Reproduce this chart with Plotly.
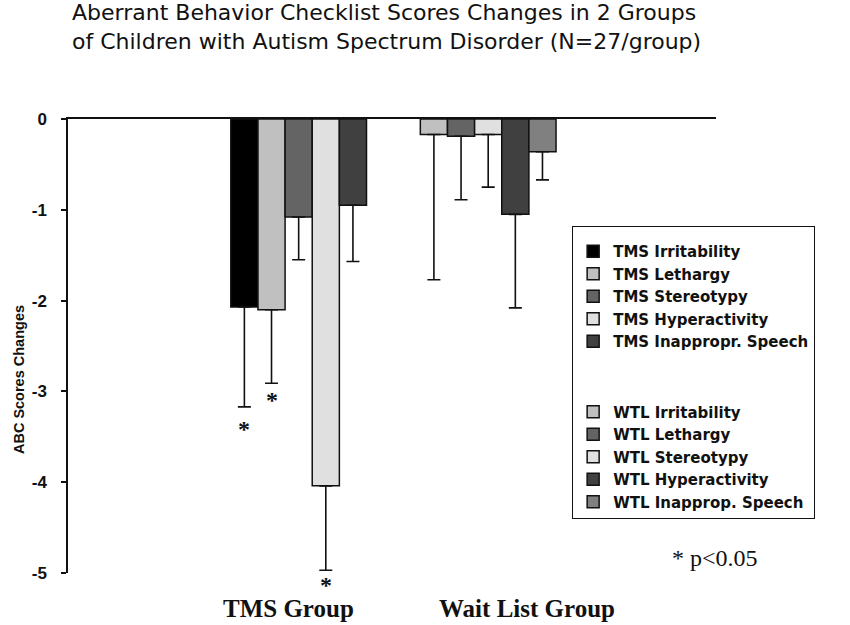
import plotly.graph_objects as go

# ---- data ----
groups = ["TMS Group", "Wait List Group"]
group_x = [0, 1]
tms_names = ["TMS Irritability", "TMS Lethargy", "TMS Stereotypy",
             "TMS Hyperactivity", "TMS Inappropr. Speech"]
wtl_names = ["WTL Irritability", "WTL Lethargy", "WTL Stereotypy",
             "WTL Hyperactivity", "WTL Inapprop. Speech"]
tms_values = [-2.07, -2.10, -1.08, -4.04, -0.95]
tms_errors = [1.10, 0.81, 0.47, 0.93, 0.62]
wtl_values = [-0.17, -0.19, -0.17, -1.05, -0.36]
wtl_errors = [1.60, 0.70, 0.58, 1.03, 0.31]
tms_significant = [True, True, False, True, False]
y_tickvals = [0, -1, -2, -3, -4, -5]
y_ticktext = ["0", "-1", "-2", "-3", "-4", "-5"]
title_lines = ["Aberrant Behavior Checklist Scores Changes in 2 Groups",
               "of Children with Autism Spectrum Disorder (N=27/group)"]

# ---- styles ----
tms_colors = ["#000000", "#c0c0c0", "#646464", "#e0e0e0", "#404040"]
wtl_colors = ["#c0c0c0", "#646464", "#e0e0e0", "#404040", "#808080"]
BARGAP = 0.284
SANS = "Liberation Sans, Arial, sans-serif"
WIDE = "DejaVu Sans, Liberation Sans, sans-serif"
SERIF = "Liberation Serif, Times New Roman, serif"
INK = "#111111"

fig = go.Figure()

def add_series(names, values, errors, colors, gx, lg):
    for i, (n, v, e, c) in enumerate(zip(names, values, errors, colors)):
        fig.add_trace(go.Bar(
            x=[gx], y=[v], name=n, offsetgroup=str(i), legendgroup=lg,
            marker=dict(color=c, line=dict(color=INK, width=1.5)),
            error_y=dict(type="data", symmetric=False, array=[0], arrayminus=[e],
                         color=INK, thickness=1.6, width=6.5),
        ))

add_series(tms_names, tms_values, tms_errors, tms_colors, group_x[0], "TMS")
add_series(wtl_names, wtl_values, wtl_errors, wtl_colors, group_x[1], "WTL")

annotations = []
# significance stars below the TMS error bars
slot_w = (1 - BARGAP) / len(tms_names)
star_shift = [-22, -17, 0, -15, 0]
for i, sig in enumerate(tms_significant):
    if sig:
        annotations.append(dict(
            x=group_x[0] - (1 - BARGAP) / 2 + slot_w * (i + 0.5),
            y=tms_values[i] - tms_errors[i], xref="x", yref="y",
            text="<b>*</b>", showarrow=False, yanchor="middle",
            yshift=star_shift[i],
            font=dict(family=SERIF, size=24, color=INK)))

# group labels
label_shift = [-10, 39]
for gx, g, s in zip(group_x, groups, label_shift):
    annotations.append(dict(
        x=gx, y=-0.079, xref="x", yref="paper", text="<b>" + g + "</b>",
        showarrow=False, xshift=s, yanchor="middle",
        font=dict(family=SERIF, size=25, color=INK)))

# y axis title
annotations.append(dict(
    x=-0.0756, y=0.425, xref="paper", yref="paper", text="<b>ABC Scores Changes</b>",
    textangle=-90, showarrow=False, xanchor="center", yanchor="middle",
    font=dict(family=SANS, size=14.5, color=INK)))

# p-value note
annotations.append(dict(
    x=0.929, y=0.033, xref="paper", yref="paper", text="* p<0.05",
    showarrow=False, xanchor="left", yanchor="middle",
    font=dict(family=SERIF, size=24, color=INK)))

# chart title
annotations.append(dict(
    x=(70 - 68) / 648, y=1 + 121 / 454, xref="paper", yref="paper",
    text="<br>".join(title_lines), align="left",
    showarrow=False, xanchor="left", yanchor="top",
    font=dict(family=WIDE, size=22, color=INK)))

fig.update_layout(
    width=850, height=625,
    margin=dict(l=68, r=134, t=119, b=52),
    paper_bgcolor="white", plot_bgcolor="white",
    barmode="group", bargap=BARGAP, bargroupgap=0,
    xaxis=dict(range=[-1.217, 2.202], side="top", showline=True, linecolor=INK,
               linewidth=1.5, showticklabels=False, ticks="", showgrid=False,
               zeroline=False, fixedrange=True),
    yaxis=dict(range=[-5, 0], tickvals=y_tickvals,
               ticktext=["<b>" + t + "</b>" for t in y_ticktext],
               showline=True, linecolor=INK, linewidth=1.5,
               ticks="outside", ticklen=5, tickwidth=1.5, tickcolor=INK,
               ticklabelstandoff=11, showgrid=False, zeroline=False,
               tickfont=dict(family=SANS, size=17, color=INK),
               fixedrange=True),
    legend=dict(x=0.778, y=0.764, xanchor="left", yanchor="top",
                traceorder="grouped", tracegroupgap=48,
                bgcolor="white", bordercolor=INK, borderwidth=1,
                entrywidth=268,
                title=dict(text=" ", font=dict(size=6)),
                font=dict(family=WIDE, size=15, color=INK, weight="bold")),
    annotations=annotations,
    showlegend=True,
)

fig.write_html("out.html", config={"displayModeBar": False},
               post_script="document.body.style.margin='0';")
